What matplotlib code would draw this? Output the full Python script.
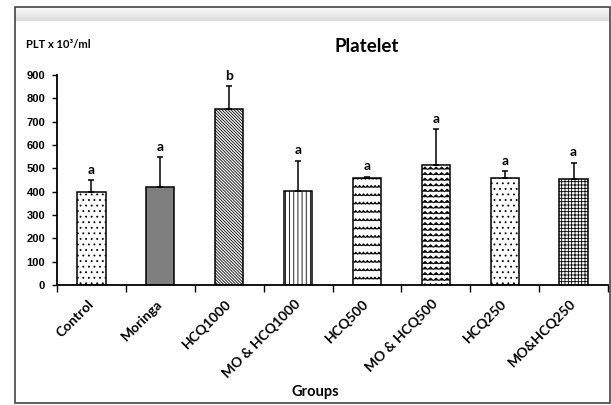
import warnings
import numpy as np
import matplotlib
matplotlib.use('Agg')
import matplotlib.pyplot as plt
import matplotlib.hatch as mhatch
import matplotlib.transforms as mtrans
from matplotlib.path import Path
from matplotlib.patches import Rectangle

warnings.filterwarnings('ignore')

groups = ['Control', 'Moringa', 'HCQ1000', 'MO & HCQ1000', 'HCQ500',
          'MO & HCQ500', 'HCQ250', 'MO&HCQ250']
platelet = [400, 422, 755, 405, 457, 513, 460, 454]
sem_upper = [50, 127, 98, 128, 8, 154, 29, 71]
letters = ['a', 'a', 'b', 'a', 'a', 'a', 'a', 'a']
y_ticks = [0, 100, 200, 300, 400, 500, 600, 700, 800, 900]


# zigzag / wave hatches (not in matplotlib by default)
class ZigHatch(mhatch.HatchPatternBase):
    char = 'z'
    teeth_factor = 2.2
    amp = 0.25

    def __init__(self, hatch, density):
        self.num_rows = int(hatch.count(self.char) * density)
        self.num_teeth = int(self.num_rows * self.teeth_factor)
        self.num_vertices = self.num_rows * (2 * self.num_teeth + 1)

    def set_vertices_and_codes(self, vertices, codes):
        n = 2 * self.num_teeth + 1
        xs = np.linspace(0, 1, n)
        offs = (np.arange(n) % 2) * self.amp / self.num_rows
        for r in range(self.num_rows):
            y = (r + 0.5) / self.num_rows
            vertices[r * n:(r + 1) * n, 0] = xs
            vertices[r * n:(r + 1) * n, 1] = y + offs
            codes[r * n:(r + 1) * n] = Path.LINETO
            codes[r * n] = Path.MOVETO


class WaveHatch(ZigHatch):
    char = 'w'
    teeth_factor = 1.0
    amp = 0.45


mhatch._hatch_types.extend([ZigHatch, WaveHatch])

plt.rcParams['hatch.linewidth'] = 0.6
plt.rcParams['hatch.color'] = 'black'

hatches = ['...', '', '\\' * 11, '||||', 'zz', 'www', '...', '+++++']
faces = ['white', '#7f7f7f', 'white', 'white', 'white', 'white', 'white', 'white']

calibri = ['Lato', 'DejaVu Sans']
arial = ['Liberation Sans', 'DejaVu Sans']

fig = plt.figure(figsize=(6.11, 4.05), dpi=100)

# outer frame + grey header strip
fig.patches.append(Rectangle((15 / 611, 2 / 405), 595 / 611, 396 / 405,
                             transform=fig.transFigure, fill=False,
                             edgecolor='#444444', linewidth=1.2))
band = fig.add_axes([15 / 611, 1 - 21 / 405, 595 / 611, 13 / 405])
grad = np.linspace(0.97, 0.86, 50).reshape(-1, 1)
band.imshow(grad, cmap='gray', vmin=0, vmax=1, aspect='auto')
band.axis('off')

ax = fig.add_axes([57 / 611, 1 - 285 / 405, 551 / 611, 210 / 405])
x = np.arange(len(groups))
bars = ax.bar(x, platelet, width=0.41, color=faces, edgecolor='black',
              linewidth=1.1, zorder=2)
for b, h in zip(bars, hatches):
    b.set_hatch(h)

ax.errorbar(x, platelet, yerr=[np.zeros(len(x)), sem_upper], fmt='none',
            ecolor='black', elinewidth=1.1, capsize=2.5, capthick=1.1, zorder=3)

for xi, m, e, l in zip(x, platelet, sem_upper, letters):
    ax.annotate(l, (xi, m + e), xytext=(0, 3), textcoords='offset points',
                ha='center', va='bottom', fontsize=10, fontweight='bold',
                family=calibri)

ax.set_xlim(-0.5, len(groups) - 0.5)
ax.set_ylim(0, 900)
ax.set_yticks(y_ticks)
ax.set_yticklabels([str(v) for v in y_ticks], fontsize=8, fontweight='bold',
                   family=arial)
ax.tick_params(axis='y', length=3.5, width=1, pad=5)

ax.set_xticks(x)
ax.set_xticklabels(groups, rotation=45, ha='right', va='center',
                   rotation_mode='anchor', fontsize=10, fontweight='bold',
                   family=calibri)
shift = mtrans.ScaledTranslation(6 / 100, 0, fig.dpi_scale_trans)
for lab in ax.get_xticklabels():
    lab.set_transform(lab.get_transform() + shift)
ax.set_xticks(np.arange(-0.5, len(groups)), minor=True)
ax.tick_params(axis='x', which='major', length=0, pad=12)
ax.tick_params(axis='x', which='minor', length=5, width=1)

for s in ['top', 'right']:
    ax.spines[s].set_visible(False)
for s in ['left', 'bottom']:
    ax.spines[s].set_linewidth(1.3)

fig.text(367 / 611, 1 - 47 / 405, 'Platelet', ha='center', va='center',
         fontsize=13.5, fontweight='bold', family=calibri)
fig.text(26 / 611, 1 - 44 / 405, 'PLT x 10³/ml', ha='left', va='center',
         fontsize=8, fontweight='bold', family=calibri)
fig.text(315 / 611, 1 - 392 / 405, 'Groups', ha='center', va='center',
         fontsize=10.5, fontweight='bold', family=calibri)

fig.savefig('out.png', dpi=100)
